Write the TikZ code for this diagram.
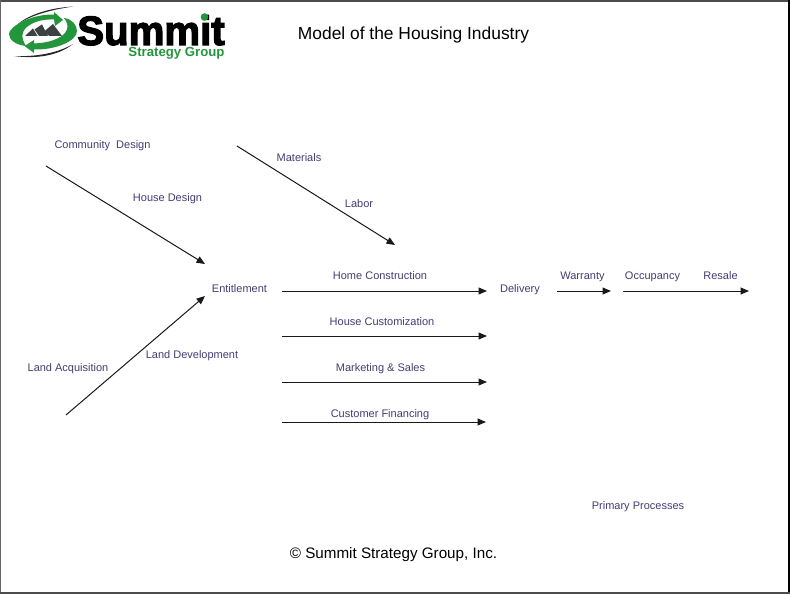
\documentclass[tikz,border=0pt]{standalone}
\usepackage{fontspec}
\setmainfont{Liberation Sans}
\newfontfamily\logoheavy[FakeBold=3]{Liberation Sans Bold}
\usetikzlibrary{arrows.meta}
\definecolor{labelc}{RGB}{66,62,115}
\definecolor{logogreen}{RGB}{35,150,60}
\definecolor{mtn}{RGB}{60,65,65}
\tikzset{
  x=1pt,y=-1pt,
  lab/.style={text=labelc,font=\fontsize{11}{13}\selectfont,inner sep=0pt,anchor=base},
  titletxt/.style={text=black,font=\fontsize{17.4}{20}\selectfont,inner sep=0pt,anchor=base},
  foot/.style={text=black,font=\fontsize{15.2}{17}\selectfont,inner sep=0pt,anchor=base},
  flow/.style={draw=black!90,line width=1pt,-{Triangle[length=8.5pt,width=7pt]}},
  swoosh/.style={fill=black!85},
}
\begin{document}
\begin{tikzpicture}
\useasboundingbox (0,0) rectangle (790,594);
\fill[white] (0,0) rectangle (790,594);
% window frame
\fill[black!70] (0,0) rectangle (790,1.8);
\fill[black!60] (0,0) rectangle (1.2,594);
\fill[black] (787.5,0) rectangle (790,594);
\fill[black!70] (0,592) rectangle (790,594);
% logo
\fill[swoosh] (18,24) .. controls (30,14) and (50,8) .. (73,6.5) .. controls (50,10) and (32,15) .. (18,24) -- cycle;
\fill[swoosh] (14,56) .. controls (36,59) and (58,56) .. (73,44) .. controls (58,53) and (36,57) .. (14,56) -- cycle;
\fill[logogreen] (54,14.5) -- (54,12) -- (63,20) -- (55,26) -- (54,19.5)
  .. controls (42,19) and (33,22) .. (27,27) .. controls (21,32) and (21,38) .. (26,46)
  .. controls (16,45) and (9,40) .. (9,34) .. controls (9,27) and (30,14) .. (54,14.5) -- cycle;
\fill[logogreen] (34,43.5) .. controls (48,43) and (60,39) .. (65,33) .. controls (69,28) and (68,23) .. (64,18)
  .. controls (72,19) and (77,25) .. (77,31) .. controls (77,41) and (56,50) .. (34,49.5)
  -- (34,53) -- (24.5,46) -- (34,40) -- cycle;
\fill[mtn] (25,36) -- (33,28.5) -- (37.5,36) -- cycle;
\fill[mtn] (34.5,29.5) -- (42,24.5) -- (48,36) -- (39,36) -- cycle;
\fill[mtn] (43.5,32) -- (53,24) -- (62,36) -- (49.5,36) -- cycle;
\node[inner sep=0pt,text=black,font=\logoheavy\fontsize{41}{42}\selectfont,anchor=base,xscale=0.98] (logoname) at (151,45) {Summit};
\fill[logogreen] (204.5,17) circle (3.8);
\node[inner sep=0pt,text=logogreen,font=\bfseries\fontsize{13.2}{14}\selectfont,anchor=base] (logosub) at (176.5,57) {Strategy Group};
% texts
\node[titletxt] (title) at (413.5,39.5) {Model of the Housing Industry};
\node[foot] (copy) at (393.5,558) {© Summit Strategy Group, Inc.};
\node[lab] (community) at (102.5,148) {Community\ \ Design};
\node[lab] (housedesign) at (167.5,201) {House Design};
\node[lab] (materials) at (299,161) {Materials};
\node[lab] (labor) at (359,207) {Labor};
\node[lab] (entitlement) at (239.5,292) {Entitlement};
\node[lab] (landacq) at (68,371) {Land Acquisition};
\node[lab] (landdev) at (192,358) {Land Development};
\node[lab] (homecon) at (380,279) {Home Construction};
\node[lab] (custom) at (382,325) {House Customization};
\node[lab] (marketing) at (380.5,371) {Marketing \& Sales};
\node[lab] (financing) at (380,417) {Customer Financing};
\node[lab] (delivery) at (520,292) {Delivery};
\node[lab] (warranty) at (582.5,279) {Warranty};
\node[lab] (occupancy) at (652.5,279) {Occupancy};
\node[lab] (resale) at (720.5,279) {Resale};
\node[lab] (primary) at (638,509) {Primary Processes};
% connector ends
\coordinate (a1) at (46,166);  \coordinate (a2) at (205,264);
\coordinate (b1) at (237,146); \coordinate (b2) at (395,245);
\coordinate (c1) at (66,415);  \coordinate (c2) at (205,296);
\coordinate (d1) at (282,291); \coordinate (d2) at (487,291);
\coordinate (e1) at (282,336); \coordinate (e2) at (487,336);
\coordinate (f1) at (282,382); \coordinate (f2) at (487,382);
\coordinate (g1) at (282,422); \coordinate (g2) at (486,422);
\coordinate (h1) at (557,291); \coordinate (h2) at (611,291);
\coordinate (i1) at (623,291); \coordinate (i2) at (749,291);
\foreach \s/\t in {a1/a2,b1/b2,c1/c2,d1/d2,e1/e2,f1/f2,g1/g2,h1/h2,i1/i2}
  \draw[flow] (\s) -- (\t);
\end{tikzpicture}
\end{document}
